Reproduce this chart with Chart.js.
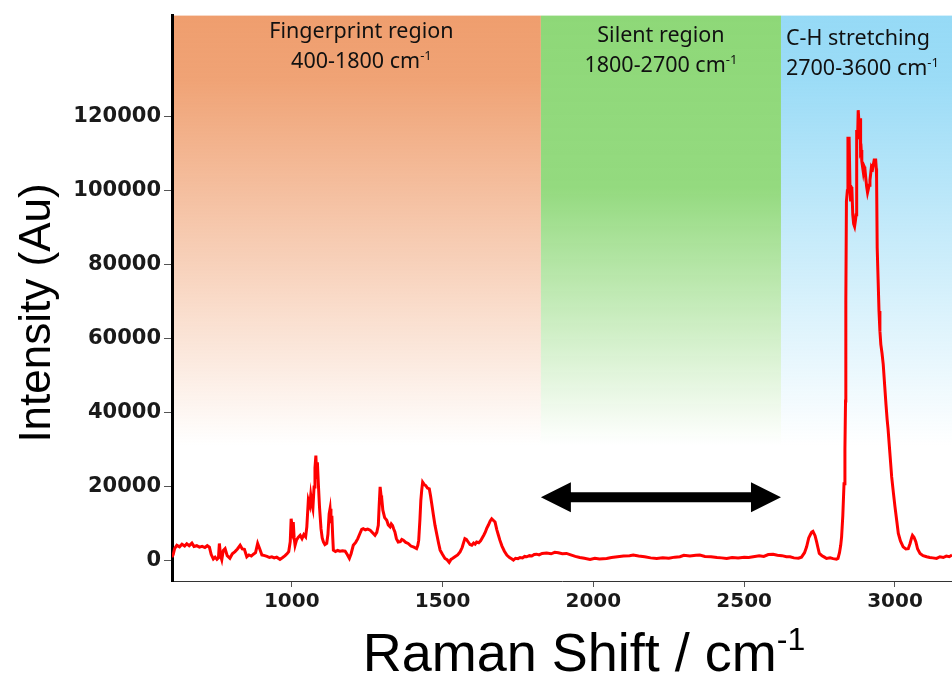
<!DOCTYPE html>
<html>
<head>
<meta charset="utf-8">
<script src="https://cdn.jsdelivr.net/npm/chart.js@4.4.1/dist/chart.umd.min.js"></script>
<style>
  html, body { margin: 0; padding: 0; background: #fff; }
  #wrap { width: 952px; height: 677px; }
</style>
</head>
<body>
<div id="wrap"><canvas id="chart_raman" width="952" height="677"></canvas></div>
<script>
// spectrum (cm-1 / counts)
var raman_shift = [
  603, 607, 612, 619, 628, 636, 645, 652, 660, 669, 676, 685, 694, 703, 712, 720, 727, 733, 740, 746,
  752, 757, 760, 764, 768, 773, 779, 786, 795, 803, 812, 820, 829, 836, 843, 851, 858, 866, 873, 880,
  887, 894, 901, 910, 918, 926, 934, 942, 950, 961, 970, 978, 985, 990, 995, 998, 1002, 1005, 1008, 1011,
  1016, 1022, 1028, 1034, 1040, 1046, 1050, 1055, 1060, 1063, 1067, 1070, 1074, 1077, 1080, 1083, 1085, 1088, 1092, 1097,
  1101, 1105, 1110, 1116, 1120, 1124, 1127, 1130, 1133, 1136, 1138, 1145, 1152, 1160, 1168, 1177, 1184, 1191, 1197, 1204,
  1212, 1219, 1226, 1232, 1237, 1244, 1252, 1260, 1268, 1276, 1282, 1287, 1290, 1293, 1296, 1298, 1302, 1308, 1315, 1320,
  1326, 1330, 1334, 1338, 1342, 1347, 1353, 1360, 1365, 1370, 1378, 1386, 1395, 1405, 1414, 1418, 1421, 1425, 1428, 1431,
  1434, 1439, 1444, 1450, 1456, 1460, 1464, 1470, 1475, 1482, 1487, 1492, 1500, 1508, 1515, 1522, 1528, 1534, 1541, 1550,
  1558, 1565, 1570, 1574, 1579, 1585, 1591, 1597, 1603, 1608, 1613, 1620, 1626, 1630, 1637, 1642, 1646, 1652, 1658, 1663,
  1668, 1674, 1680, 1685, 1690, 1697, 1705, 1713, 1722, 1730, 1735, 1742, 1750, 1757, 1765, 1772, 1779, 1788, 1796, 1804,
  1812, 1820, 1830, 1845, 1860, 1872, 1884, 1897, 1911, 1925, 1940, 1955, 1970, 1989, 2005, 2020, 2044, 2060, 2080, 2100,
  2120, 2132, 2150, 2170, 2190, 2210, 2230, 2250, 2270, 2287, 2300, 2320, 2340, 2353, 2370, 2390, 2410, 2425, 2442, 2460,
  2480, 2500, 2515, 2530, 2550, 2565, 2580, 2596, 2610, 2625, 2640, 2652, 2665, 2680, 2690, 2700, 2707, 2714, 2720, 2724,
  2728, 2735, 2740, 2745, 2749, 2758, 2766, 2773, 2785, 2795, 2806, 2811, 2816, 2820, 2823, 2827, 2831, 2834, 2836, 2837,
  2839, 2842, 2844, 2848, 2851, 2853, 2855, 2857, 2860, 2863, 2866, 2869, 2871, 2873, 2876, 2878, 2881, 2884, 2886, 2888,
  2890, 2895, 2898, 2900, 2903, 2906, 2909, 2911, 2914, 2917, 2920, 2922, 2926, 2931, 2936, 2938, 2939, 2941, 2944, 2947,
  2950, 2953, 2957, 2961, 2966, 2970, 2974, 2977, 2983, 2989, 2995, 3000, 3006, 3011, 3018, 3027, 3036, 3044, 3050, 3055,
  3058, 3063, 3069, 3075, 3083, 3093, 3105, 3115, 3125, 3138, 3149, 3160, 3170, 3180, 3189
];
var raman_intensity = [
  800, 1500, 3200, 4000, 3600, 4300, 3800, 4400, 3900, 4600, 3700, 3900, 3500, 3700, 3400, 3900, 3500, 1500, 300, 800,
  200, 600, 4500, 1200, 100, 2600, 3100, 1200, 500, 1700, 2300, 3000, 4000, 3000, 2900, 900, 1400, 1100, 1600, 2000,
  4500, 3000, 1400, 1200, 1000, 700, 900, 600, 800, 200, 700, 1200, 1800, 2300, 5000, 11200, 8500, 10300, 6000, 4000,
  5500, 6200, 6700, 5800, 6900, 6300, 9000, 16200, 14800, 17500, 15000, 13900, 19800, 25000, 28300, 22000, 26500, 21000, 14400, 8500,
  6000, 4900, 4200, 4500, 7000, 12500, 13900, 10000, 12000, 6000, 2700, 2300, 2600, 2400, 2500, 2400, 1500, 450, 1800, 4000,
  4800, 5800, 7200, 8300, 8500, 8200, 8400, 8100, 7400, 6700, 7500, 9400, 15000, 19800, 17500, 17000, 13500, 11500, 10800, 9500,
  9000, 9800, 9400, 8400, 7600, 5800, 4900, 5000, 5600, 5400, 4800, 4500, 3800, 3500, 3100, 4000, 5400, 11000, 16200, 19000,
  21100, 20500, 20200, 19500, 19300, 17500, 15300, 12000, 9400, 6500, 4500, 2700, 1500, 450, 100, -600, 200, 500, 900, 1400,
  2200, 3400, 4800, 5800, 5600, 4900, 4200, 4000, 4600, 4300, 4900, 4700, 5200, 5800, 6800, 7600, 8500, 9500, 10600, 11200,
  10800, 10300, 8200, 6800, 5400, 3800, 2400, 1350, 700, 300, 0, 500, 400, 700, 600, 1000, 900, 1200, 1100, 1500,
  1600, 1400, 1800, 1900, 1700, 2100, 2000, 1700, 1800, 1400, 1000, 700, 500, 200, 500, 300, 450, 700, 900, 1100,
  1200, 1350, 1100, 900, 600, 450, 600, 500, 800, 900, 1300, 1100, 1300, 1350, 1000, 900, 700, 600, 450, 700,
  600, 800, 700, 900, 1200, 1000, 1500, 1600, 1300, 1200, 900, 900, 600, 500, 800, 2000, 3600, 6000, 7000, 7600,
  7800, 6600, 5000, 3200, 1800, 1200, 800, 450, 600, 400, 250, 450, 2000, 4000, 6300, 12000, 20700, 30000, 43100, 70000,
  97100, 100000, 114200, 114200, 100000, 97100, 101000, 100700, 93500, 91000, 90300, 92000, 93500, 116400, 114000, 121800, 118000, 119600, 110600, 111000,
  107900, 105000, 106500, 106100, 103500, 101100, 99500, 100200, 101500, 102900, 105000, 106500, 106000, 108300, 108300, 106000, 103400, 84500, 76000, 67400,
  62000, 58400, 56000, 53000, 47000, 42300, 38000, 35500, 29000, 22500, 18000, 14400, 10500, 7200, 5200, 3600, 3000, 3100, 4500, 6000,
  6700, 6200, 5000, 3000, 1800, 1200, 900, 700, 600, 450, 900, 700, 1100, 900, 1350
];
var x_ticks = [1000, 1500, 2000, 2500, 3000];
var y_ticks = [0, 20000, 40000, 60000, 80000, 100000, 120000];

// shaded regions, edges in cm-1 as drawn in the picture
var band_edges = [603, 1826, 2622, 3189];
var band_titles = ['Fingerprint region', 'Silent region', 'C-H stretching'];
var band_ranges = ['400-1800', '1800-2700', '2700-3600'];
var band_colors = ['239,158,110', '142,216,120', '150,218,246'];

function draw_sup(ctx, base, sup, x, y, size, family, align) {
  ctx.font = size + 'px ' + family;
  var w1 = ctx.measureText(base).width;
  ctx.font = Math.round(size * 0.6) + 'px ' + family;
  var w2 = ctx.measureText(sup).width;
  var start = x;
  if (align === 'center') start = x - (w1 + w2) / 2;
  ctx.textAlign = 'left';
  ctx.textBaseline = 'alphabetic';
  ctx.font = size + 'px ' + family;
  ctx.fillText(base, start, y);
  ctx.font = Math.round(size * 0.6) + 'px ' + family;
  ctx.fillText(sup, start + w1, y - size * 0.38);
}

var bands_plugin = {
  id: 'bands',
  beforeDraw: function (chart) {
    var ctx = chart.ctx, area = chart.chartArea;
    var x = chart.scales.x, y = chart.scales.y;
    var fade = y.getPixelForValue(31000);
    ctx.save();
    for (var i = 0; i < band_titles.length; i++) {
      var x0 = x.getPixelForValue(band_edges[i]);
      var x1 = x.getPixelForValue(band_edges[i + 1]);
      var c = band_colors[i];
      var g = ctx.createLinearGradient(0, area.top, 0, fade);
      g.addColorStop(0, 'rgba(' + c + ',1)');
      g.addColorStop(i === 1 ? 0.4 : 0.15, 'rgba(' + c + ',0.95)');
      g.addColorStop(1, 'rgba(' + c + ',0)');
      ctx.fillStyle = g;
      ctx.fillRect(x0, area.top, x1 - x0, fade - area.top);
    }
    ctx.restore();
  },
  afterDraw: function (chart) {
    var ctx = chart.ctx;
    var x = chart.scales.x, y = chart.scales.y;
    ctx.save();
    ctx.fillStyle = '#111';
    var font = '"Noto Sans"';
    var base_y = [[38, 68], [42, 72], [45, 75]];
    for (var i = 0; i < band_titles.length; i++) {
      var x0 = x.getPixelForValue(band_edges[i]);
      var x1 = x.getPixelForValue(band_edges[i + 1]);
      var cx = i < 2 ? (x0 + x1) / 2 + (i === 0 ? 5 : 0) : x0 + 5;
      var al = i < 2 ? 'center' : 'left';
      ctx.font = '21.5px ' + font;
      ctx.textAlign = al;
      ctx.textBaseline = 'alphabetic';
      ctx.fillText(band_titles[i], cx, base_y[i][0]);
      draw_sup(ctx, band_ranges[i] + ' cm', '-1', cx, base_y[i][1], 21.5, font, al);
    }

    // double arrow across the silent region
    var ax0 = x.getPixelForValue(band_edges[1]);
    var ax1 = x.getPixelForValue(band_edges[2]);
    var ay = y.getPixelForValue(17000);
    ctx.fillStyle = '#000';
    ctx.beginPath();
    ctx.moveTo(ax0, ay);
    ctx.lineTo(ax0 + 30, ay - 15);
    ctx.lineTo(ax0 + 30, ay - 5);
    ctx.lineTo(ax1 - 30, ay - 5);
    ctx.lineTo(ax1 - 30, ay - 15);
    ctx.lineTo(ax1, ay);
    ctx.lineTo(ax1 - 30, ay + 15);
    ctx.lineTo(ax1 - 30, ay + 5);
    ctx.lineTo(ax0 + 30, ay + 5);
    ctx.lineTo(ax0 + 30, ay + 15);
    ctx.closePath();
    ctx.fill();

    // axis titles
    ctx.fillStyle = '#000';
    ctx.save();
    ctx.translate(50, 313);
    ctx.rotate(-Math.PI / 2);
    ctx.font = '44px "Liberation Sans"';
    ctx.textAlign = 'center';
    ctx.textBaseline = 'alphabetic';
    ctx.fillText('Intensity (Au)', 0, 0);
    ctx.restore();
    draw_sup(ctx, 'Raman Shift / cm', '-1', 584, 671, 54, '"Liberation Sans"', 'center');
    ctx.restore();
  }
};

function plain(v) { return String(v); }

var chart_raman = new Chart(document.getElementById('chart_raman').getContext('2d'), {
  type: 'line',
  data: {
    datasets: [{
      data: raman_shift.map(function (v, i) { return {x: v, y: raman_intensity[i]}; }),
      borderColor: '#FF0000',
      borderWidth: 3,
      pointRadius: 0,
      tension: 0,
      fill: false
    }]
  },
  options: {
    responsive: false,
    animation: false,
    layout: { padding: { top: 14, left: 0, right: 0, bottom: 0 } },
    plugins: { legend: { display: false }, tooltip: { enabled: false } },
    scales: {
      x: {
        type: 'linear',
        min: 603,
        max: 3189,
        afterBuildTicks: function (s) { s.ticks = x_ticks.map(function (v) { return {value: v}; }); },
        afterFit: function (s) { s.height = 96; },
        grid: { drawOnChartArea: false, tickLength: 6, color: '#555' },
        border: { color: '#333', width: 1 },
        ticks: { callback: plain, color: '#1a1a1a', padding: 3, maxRotation: 0, font: { family: 'DejaVu Sans', size: 20, weight: 'bold' } }
      },
      y: {
        min: -5660,
        max: 147400,
        afterBuildTicks: function (s) { s.ticks = y_ticks.map(function (v) { return {value: v}; }); },
        afterFit: function (s) { s.width = 172; },
        grid: { drawOnChartArea: false, tickLength: 8, color: '#555' },
        border: { color: '#000', width: 3 },
        ticks: { callback: plain, color: '#1a1a1a', padding: 3, font: { family: 'DejaVu Sans', size: 21, weight: 'bold' } }
      }
    }
  },
  plugins: [bands_plugin]
});
</script>
</body>
</html>
